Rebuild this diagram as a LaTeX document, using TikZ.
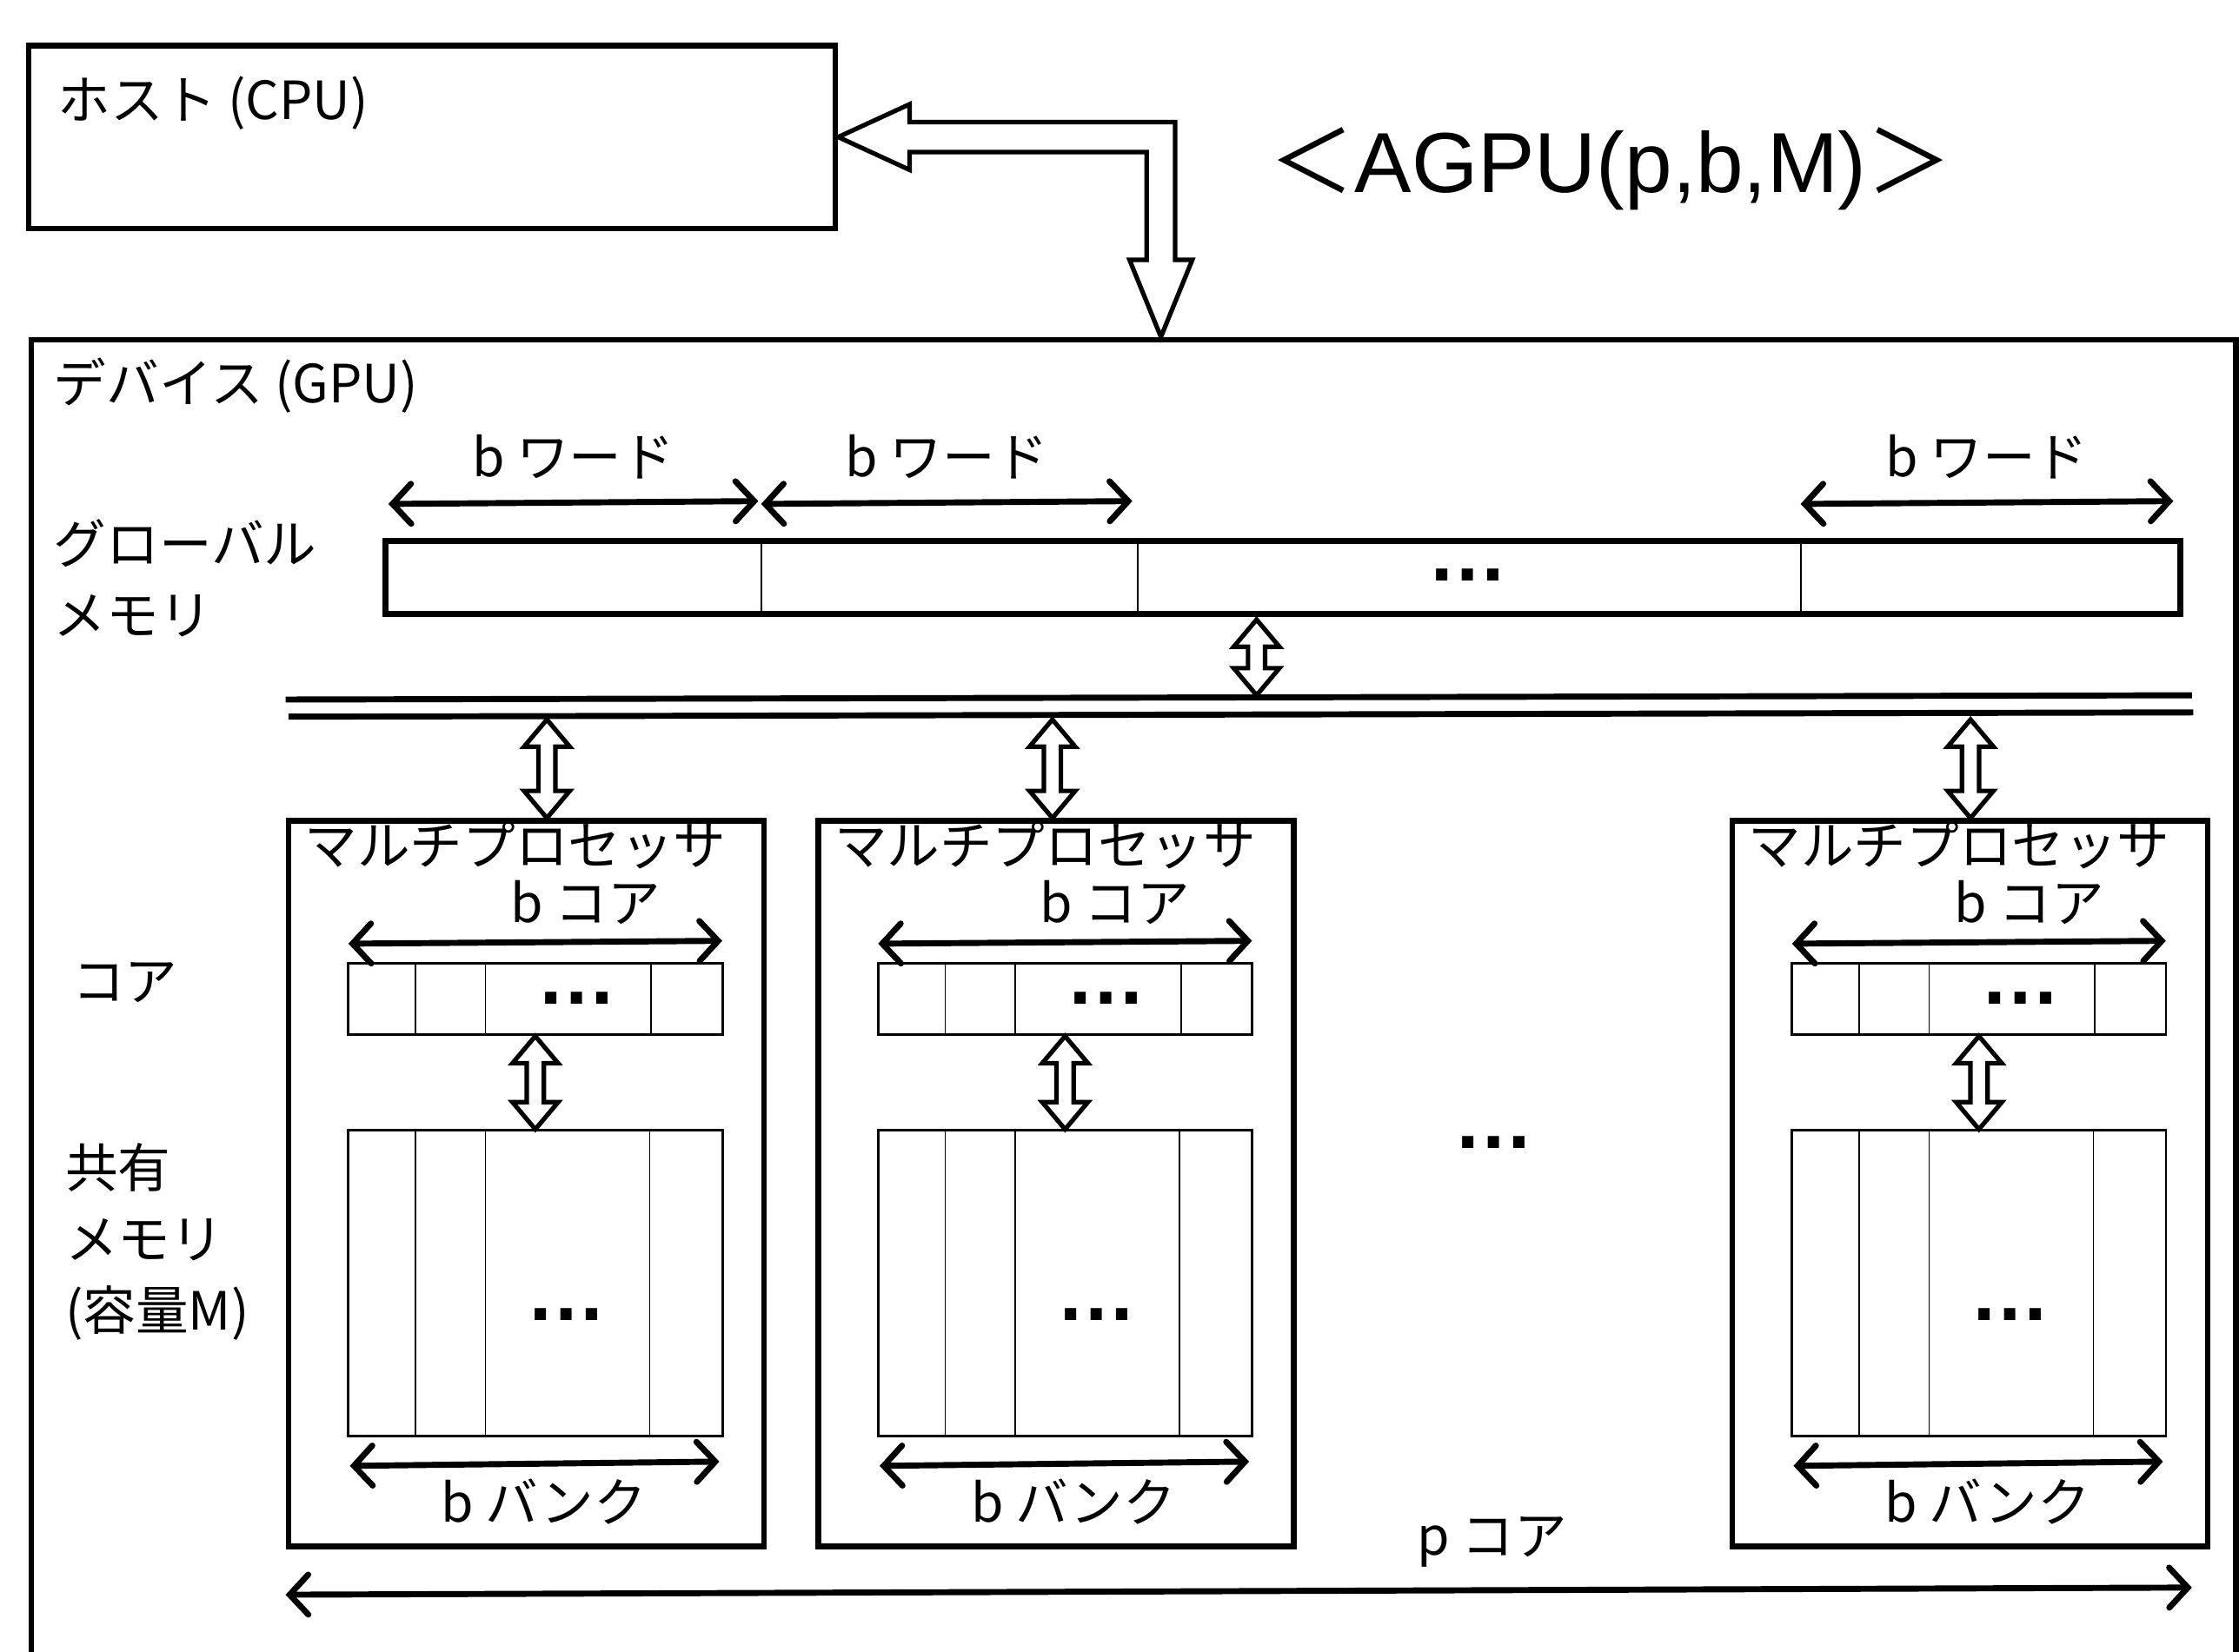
\documentclass[tikz,border=0pt]{standalone}
\usepackage{fontspec}
\setmainfont{Noto Sans CJK JP}
\newfontfamily\arialfont{Liberation Sans}
\usetikzlibrary{arrows.meta,positioning,calc}

\tikzset{
  heavy/.style={draw,line width=1.15pt,inner sep=0pt},
  light/.style={draw,line width=0.5pt,inner sep=0pt},
  divider/.style={line width=0.3pt},
  lbl/.style={font=\fontsize{10.5}{14.2}\selectfont,inner sep=0pt},
  ellip/.style={font=\arialfont\bfseries\fontsize{16}{16}\selectfont,inner sep=0pt},
  sizearrow/.style={line width=1.2pt,line cap=round,
    {Straight Barb[length=1.3mm,width=2.8mm,line cap=round]}-{Straight Barb[length=1.3mm,width=2.8mm,line cap=round]}},
  busline/.style={line width=1.2pt},
  hollow/.style={draw,line width=0.9pt,line join=miter,fill=white},
}
\newcommand{\hollowud}[2]{%
  \draw[hollow] (#1) -- ($(#1)+(16,19)$) -- ($(#1)+(6,19)$) -- ($(#2)+(6,-19)$) -- ($(#2)+(16,-19)$)
    -- (#2) -- ($(#2)+(-16,-19)$) -- ($(#2)+(-6,-19)$) -- ($(#1)+(-6,19)$) -- ($(#1)+(-16,19)$) -- cycle;}

\begin{document}
\begin{tikzpicture}[x=0.1mm,y=-0.1mm]
  \useasboundingbox (0,0) rectangle (1568,1157);
  \clip (0,0) rectangle (1568,1157);

  \node[heavy,minimum width=56.5mm,minimum height=12.8mm] (host) at (302.5,96) {};
  \node[lbl,anchor=west] (hostlbl) at (40,72) {ホスト (CPU)};
  \node[font=\fontsize{17}{17}\selectfont,inner sep=0pt] (title) at (1128,118) {＜{\arialfont AGPU(p,b,M)}＞};

  \node[heavy,anchor=north west,minimum width=154.4mm,minimum height=100mm] (dev) at (20,236) {};
  \node[lbl,anchor=west] (devlbl) at (37,270) {デバイス (GPU)};
  \coordinate (devin) at (813,236);
  \draw[hollow] (host.east) -- ++(50,-23) -- ++(0,12.5) -- ($(devin |- host.east)+(10,-10.5)$)
    -- ($(devin)+(10,-54)$) -- ($(devin)+(22,-54)$) -- (devin) -- ($(devin)+(-22,-54)$)
    -- ($(devin)+(-10,-54)$) -- ($(devin |- host.east)+(-10,10.5)$) -- ($(host.east)+(50,10.5)$)
    -- ++(0,12.5) -- cycle;

  \node[lbl,anchor=west,align=left] (gmlbl) at (37,405) {グローバル\\メモリ};
  \node[heavy,minimum width=125.7mm,minimum height=5.1mm] (gm) at (898.5,404.5) {};
  \foreach \d in {533,797,1261}
    \draw[divider] (\d,0 |- gm.north) -- (\d,0 |- gm.south);
  \node[ellip] (gmdots) at (1028,403) {…};
  \foreach \a/\b [count=\i] in {272/531,533/793,1261/1522} {
    \draw[sizearrow] (\a,353) -- (\b,351);
    \node[lbl] (bw\i) at ({(\a+\b)/2},320) {b ワード};
  }

  \coordinate (bus1w) at (200,490);
  \coordinate (bus1e) at (1535,487);
  \coordinate (bus2w) at (202,502);
  \coordinate (bus2e) at (1536,499);
  \draw[busline] (bus1w) -- (bus1e);
  \draw[busline] (bus2w) -- (bus2e);
  \coordinate (gmport) at ($(gm.south)+(-18.5,2)$);
  \coordinate (busport) at (880,487);
  \hollowud{gmport}{busport}

  \node[lbl,anchor=west] (corelbl) at (50,688) {コア};
  \node[lbl,anchor=west,align=left] (shlbl) at (45,870) {共有\\メモリ\\(容量M)};

  \foreach \i/\x/\tx in {1/200/383,2/571/737,3/1211/1380} {
    \node[heavy,anchor=north west,minimum width=33.3mm,minimum height=50.8mm] (mp\i) at (\x,573) {};
    \coordinate (tap\i) at (\tx,504);
    \coordinate (mpin\i) at ($(mp\i.north west)+(\tx-\x,0)$);
    \hollowud{tap\i}{mpin\i}
    \node[lbl] (mpt\i) at ($(mp\i.north west)+(161,19)$) {マルチプロセッサ};
    \node[lbl] (bc\i) at ($(mp\i.north west)+(210,59)$) {b コア};
    \node[light,anchor=north west,minimum width=26.2mm,minimum height=5mm] (core\i) at ($(mp\i.north west)+(43,101)$) {};
    \foreach \d in {48,97,213}
      \draw[divider] ($(core\i.north west)+(\d,0)$) -- ($(core\i.south west)+(\d,0)$);
    \node[ellip] (cdots\i) at ($(core\i.center)+(29,-1)$) {…};
    \draw[sizearrow] ($(core\i.north west)+(1,-13)$) -- ($(core\i.north east)+(-1,-15)$);
    \node[light,anchor=north west,minimum width=26.2mm,minimum height=21.4mm] (sh\i) at ($(mp\i.north west)+(43,218)$) {};
    \foreach \d in {48,97,212}
      \draw[divider] ($(sh\i.north west)+(\d,0)$) -- ($(sh\i.south west)+(\d,0)$);
    \node[ellip] (sdots\i) at ($(sh\i.center)+(22,22)$) {…};
    \hollowud{core\i.south}{sh\i.north}
    \draw[sizearrow] ($(sh\i.south west)+(2,20)$) -- ($(sh\i.south east)+(-3,17)$);
    \node[lbl] (bb\i) at ($(sh\i.south)+(6,45)$) {b バンク};
  }

  \node[ellip] (middots) at (1046,800) {…};
  \draw[sizearrow] (200,1117) -- (1535,1112);
  \node[lbl] (pc) at (1045,1080) {p コア};
\end{tikzpicture}
\end{document}
